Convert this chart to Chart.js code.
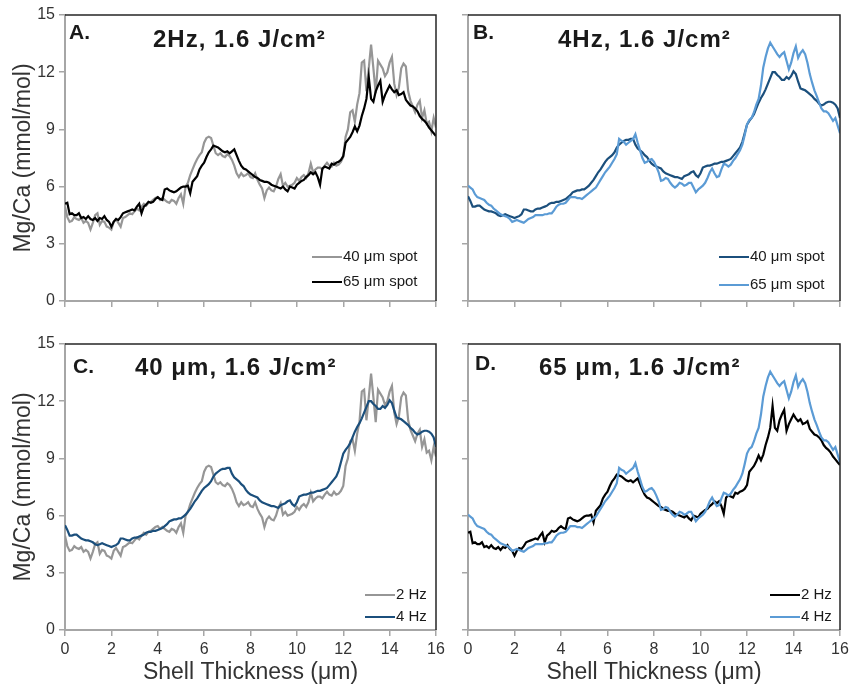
<!DOCTYPE html>
<html>
<head>
<meta charset="utf-8">
<script src="https://cdn.jsdelivr.net/npm/chart.js@4/dist/chart.umd.min.js"></script>
<style>
  html, body { margin: 0; padding: 0; background: #fff; }
  #wrap { position: relative; width: 864px; height: 686px; }
  #wrap canvas { position: absolute; left: 0; top: 0; }
</style>
</head>
<body>
<div id="wrap">
  <canvas id="panelA" width="864" height="686"></canvas>
  <canvas id="panelB" width="864" height="686"></canvas>
  <canvas id="panelC" width="864" height="686"></canvas>
  <canvas id="panelD" width="864" height="686"></canvas>
</div>
<script>
// sample positions along the shell (um)
const thickness = [
  0.0, 0.1, 0.2, 0.3, 0.4, 0.5, 0.6, 0.7, 0.8, 0.9,
  1.0, 1.1, 1.2, 1.3, 1.4, 1.5, 1.6, 1.7, 1.8, 1.9,
  2.0, 2.1, 2.2, 2.3, 2.4, 2.5, 2.6, 2.7, 2.8, 2.9,
  3.0, 3.1, 3.2, 3.3, 3.4, 3.5, 3.6, 3.7, 3.8, 3.9,
  4.0, 4.1, 4.2, 4.3, 4.4, 4.5, 4.6, 4.7, 4.8, 4.9,
  5.0, 5.1, 5.2, 5.3, 5.4, 5.5, 5.6, 5.7, 5.8, 5.9,
  6.0, 6.1, 6.2, 6.3, 6.4, 6.5, 6.6, 6.7, 6.8, 6.9,
  7.0, 7.1, 7.2, 7.3, 7.4, 7.5, 7.6, 7.7, 7.8, 7.9,
  8.0, 8.1, 8.2, 8.3, 8.4, 8.5, 8.6, 8.7, 8.8, 8.9,
  9.0, 9.1, 9.2, 9.3, 9.4, 9.5, 9.6, 9.7, 9.8, 9.9,
  10.0, 10.1, 10.2, 10.3, 10.4, 10.5, 10.6, 10.7, 10.8, 10.9,
  11.0, 11.1, 11.2, 11.3, 11.4, 11.5, 11.6, 11.7, 11.8, 11.9,
  12.0, 12.1, 12.2, 12.3, 12.4, 12.5, 12.6, 12.7, 12.8, 12.9,
  13.0, 13.1, 13.2, 13.3, 13.4, 13.5, 13.6, 13.7, 13.8, 13.9,
  14.0, 14.1, 14.2, 14.3, 14.4, 14.5, 14.6, 14.7, 14.8, 14.9,
  15.0, 15.1, 15.2, 15.3, 15.4, 15.5, 15.6, 15.7, 15.8, 15.9,
  16.0
]

// Mg/Ca (mmol/mol), 2 Hz, 40 um spot
const hz2spot40 = [
  4.95, 4.4, 4.15, 4.2, 4.4, 4.3, 4.25, 4.35, 4.1, 4.2,
  4.1, 3.75, 4.1, 4.5, 4.6, 4.0, 4.2, 4.15, 3.9, 3.85,
  3.75, 4.15, 4.3, 4.1, 3.9, 4.35, 4.4, 4.5, 4.6, 4.55,
  4.7, 4.85, 4.75, 4.95, 5.1, 5.0, 5.15, 5.2, 5.3, 5.4,
  5.45, 5.3, 5.4, 5.3, 5.2, 5.15, 5.3, 5.25, 5.1, 5.4,
  5.6, 5.1, 6.0, 6.2, 6.6, 6.9, 7.2, 7.45, 7.65, 7.8,
  8.3, 8.55, 8.62, 8.55, 8.15, 7.75, 7.65, 7.75, 7.6, 7.55,
  7.7, 7.6, 7.4, 7.1, 6.7, 6.5, 6.7, 6.55, 6.6, 6.7,
  6.5, 6.45, 6.7, 6.35, 6.1, 5.9, 5.4, 5.8, 5.95, 5.8,
  5.75, 6.0, 6.4, 6.65, 6.05, 6.2, 6.0, 6.05, 6.1, 6.2,
  6.45, 6.3, 6.5, 6.6, 6.45, 6.7, 7.2, 6.75, 6.9, 7.0,
  7.0, 6.9, 7.1, 7.25, 7.1, 7.05, 7.25, 7.1, 7.15, 7.3,
  7.55, 8.6, 9.0, 9.9, 10.0, 9.4, 10.3, 10.9, 12.5, 12.6,
  11.0, 12.2, 13.45, 12.2, 10.9, 12.6, 12.4, 12.2, 11.8, 12.0,
  12.5, 12.8, 11.4, 10.8, 11.2, 12.2, 12.45, 12.3, 11.0, 10.5,
  10.2, 9.9, 10.3, 10.5, 9.6, 10.0, 9.3, 9.4, 8.9, 9.6,
  9.1
]

// Mg/Ca (mmol/mol), 2 Hz, 65 um spot
const hz2spot65 = [
  5.1, 5.15, 4.55, 4.6, 4.5, 4.5, 4.6, 4.35, 4.4, 4.3,
  4.45, 4.3, 4.25, 4.35, 4.2, 4.35, 4.3, 4.45, 4.25, 4.15,
  3.9, 4.15, 4.3, 4.25, 4.4, 4.6, 4.65, 4.7, 4.75, 4.8,
  4.75, 4.95, 5.1, 4.6, 4.95, 5.05, 5.2, 5.15, 5.2, 5.35,
  5.45, 5.35, 5.3, 5.85, 5.9, 5.8, 5.75, 5.7, 5.75, 5.85,
  5.95, 6.0, 6.0, 6.05, 5.65, 6.25, 6.4, 6.55, 6.9, 7.1,
  7.25, 7.55, 7.8, 7.95, 8.15, 8.1, 8.05, 7.95, 7.85, 7.8,
  7.85, 7.75, 7.85, 7.95, 7.65, 7.35, 7.1, 6.95, 6.9, 6.8,
  6.7, 6.6, 6.5, 6.45, 6.35, 6.3, 6.25, 6.25, 6.2, 6.1,
  6.05, 6.0, 5.95, 5.9, 6.0, 5.85, 5.75, 6.0, 5.95, 5.9,
  6.1, 6.2, 6.3, 6.35, 6.5, 6.6, 6.75, 6.65, 6.75, 6.5,
  6.1, 6.95, 7.05, 7.0, 6.95, 7.2, 7.15, 7.25, 7.3, 7.4,
  7.6, 8.3, 8.45, 8.6, 8.85, 9.15, 8.9, 9.2, 9.7, 10.1,
  10.6, 11.75, 10.6, 10.45, 11.0, 11.3, 11.55, 10.45, 10.8, 11.05,
  11.3, 11.1, 10.95, 11.05, 10.8, 10.85, 10.95, 10.55, 10.4, 10.25,
  10.2, 10.1, 9.95, 9.7, 9.55, 9.45, 9.3, 9.1, 8.95, 8.8,
  8.65
]

// Mg/Ca (mmol/mol), 4 Hz, 40 um spot
const hz4spot40 = [
  5.5, 5.25, 4.95, 4.95, 5.0, 5.0, 4.9, 4.8, 4.75, 4.7,
  4.7, 4.65, 4.6, 4.5, 4.45, 4.5, 4.55, 4.5, 4.45, 4.4,
  4.35, 4.4, 4.45, 4.55, 4.8, 4.8, 4.75, 4.7, 4.7, 4.8,
  4.85, 4.85, 4.9, 4.95, 5.0, 5.1, 5.15, 5.15, 5.2, 5.2,
  5.25, 5.3, 5.35, 5.45, 5.55, 5.7, 5.75, 5.8, 5.8, 5.85,
  5.85, 5.95, 6.05, 6.2, 6.35, 6.55, 6.75, 6.9, 7.1, 7.3,
  7.45, 7.55, 7.65, 7.8, 8.05, 8.2, 8.3, 8.4, 8.45, 8.45,
  8.5, 8.5, 8.2, 8.0, 7.9, 7.8, 7.65, 7.55, 7.35, 7.2,
  7.1, 7.05, 7.0, 6.95, 6.8, 6.7, 6.65, 6.6, 6.55, 6.5,
  6.5, 6.45, 6.4, 6.55, 6.6, 6.65, 6.75, 6.8, 6.6, 6.5,
  6.7, 7.0, 7.05, 7.1, 7.1, 7.15, 7.2, 7.2, 7.25, 7.3,
  7.3, 7.35, 7.4, 7.45, 7.6, 7.75, 7.9, 8.05, 8.35, 8.8,
  9.25, 9.45, 9.6, 9.8, 10.1, 10.4, 10.65, 10.85, 11.1, 11.4,
  11.7, 12.0, 12.0, 11.85, 11.75, 11.6, 11.6, 11.75, 11.65, 11.8,
  12.05, 11.9, 11.5, 11.15, 11.1, 11.05, 10.95, 10.85, 10.75, 10.6,
  10.5, 10.35, 10.25, 10.3, 10.4, 10.45, 10.45, 10.4, 10.3, 10.1,
  9.6
]

// Mg/Ca (mmol/mol), 4 Hz, 65 um spot
const hz4spot65 = [
  6.05, 5.95, 5.85, 5.6, 5.45, 5.4, 5.35, 5.3, 5.15, 5.05,
  5.0, 4.85, 4.75, 4.65, 4.55, 4.5, 4.45, 4.4, 4.3, 4.15,
  4.2, 4.25, 4.2, 4.15, 4.1, 4.2, 4.3, 4.35, 4.4, 4.5,
  4.5, 4.5, 4.5, 4.55, 4.55, 4.6, 4.6, 4.75, 4.95, 5.05,
  5.1, 5.1, 5.15, 5.3, 5.45, 5.45, 5.45, 5.4, 5.4, 5.35,
  5.45, 5.55, 5.65, 5.75, 5.85, 5.95, 6.15, 6.35, 6.55, 6.75,
  6.9, 7.05, 7.25, 7.45, 7.7, 8.5, 8.4, 8.35, 8.2, 8.3,
  8.4, 8.5, 8.75, 8.3, 7.9, 7.5, 7.25, 7.3, 7.4, 7.45,
  7.3, 7.05, 6.75, 6.3, 6.35, 6.45, 6.4, 6.2, 6.05, 5.95,
  6.05, 6.2, 6.15, 6.05, 6.1, 6.2, 6.2, 5.95, 5.7, 5.85,
  5.95, 6.05, 6.2, 6.45, 6.75, 6.95, 6.7, 6.5, 6.55, 6.9,
  7.2, 7.15, 7.05, 7.15, 7.35, 7.5, 7.7, 7.9, 8.2, 8.7,
  9.25, 9.5, 9.6, 9.9, 10.3, 10.6, 11.3, 12.25, 12.8, 13.25,
  13.55, 13.35, 13.15, 12.95, 12.8, 12.95, 13.05, 12.6, 12.15, 12.5,
  13.0, 13.35, 12.75, 13.0, 13.15, 12.95, 12.5, 11.9, 11.45, 11.05,
  10.75, 10.4, 10.1, 9.95, 9.95, 9.85, 9.65, 9.45, 9.6, 9.2,
  8.8
]

const xTicks = [0, 2, 4, 6, 8, 10, 12, 14, 16]
const yTicks = [0, 3, 6, 9, 12, 15]

const FONT = '"Liberation Sans", Arial, Helvetica, sans-serif'
const GRAY = '#969696'
const BLACK = '#000000'
const NAVY = '#1b4f7c'
const SKY = '#5b9bd5'
const AXIS = '#a6a6a6'
const TEXT = '#333333'

const W = 864
const H = 686

function series(values) {
  return thickness.map((x, i) => ({ x: x, y: values[i] }))
}

// title, panel letter, legend and the dark top/right frame
const panelPlugin = {
  id: 'panel',
  afterDraw(chart, args, opts) {
    const { ctx, chartArea: a } = chart
    ctx.save()

    ctx.strokeStyle = '#262626'
    ctx.lineWidth = 1.5
    ctx.beginPath()
    ctx.moveTo(a.left, a.top)
    ctx.lineTo(a.right, a.top)
    ctx.lineTo(a.right, a.bottom)
    ctx.stroke()

    ctx.fillStyle = '#1a1a1a'
    ctx.textBaseline = 'alphabetic'
    ctx.textAlign = 'left'
    ctx.font = 'bold 21px ' + FONT
    ctx.fillText(opts.letter, a.left + opts.letterAt[0], a.top + opts.letterAt[1])
    ctx.font = 'bold 24px ' + FONT
    ctx.letterSpacing = '1px'
    ctx.fillText(opts.title, a.left + opts.titleAt[0], a.top + opts.titleAt[1])
    ctx.letterSpacing = '0px'

    ctx.font = '15px ' + FONT
    ctx.textBaseline = 'middle'
    chart.data.datasets.forEach((ds, i) => {
      const y = a.bottom + opts.legendRows[i]
      const x0 = a.right + opts.legendX[0]
      const x1 = a.right + opts.legendX[1]
      ctx.strokeStyle = ds.borderColor
      ctx.lineWidth = 2
      ctx.beginPath()
      ctx.moveTo(x0, y)
      ctx.lineTo(x1, y)
      ctx.stroke()
      ctx.fillStyle = '#1a1a1a'
      ctx.fillText(ds.label, x1 + 1, y)
    })
    ctx.restore()
  }
}

function makePanel(id, p) {
  const yWidth = p.yLabels ? 65 : 20
  const xHeight = p.xLabels ? 56 : 10
  new Chart(document.getElementById(id), {
    type: 'line',
    data: {
      datasets: p.lines.map((l, i) => ({
        label: l.label,
        data: series(l.values),
        borderColor: l.color,
        borderWidth: 2.2,
        pointRadius: 0,
        tension: 0,
        order: 2 - i
      }))
    },
    options: {
      responsive: false,
      animation: false,
      devicePixelRatio: 1,
      layout: {
        padding: {
          left: p.area.left - yWidth,
          top: p.area.top,
          right: W - p.area.right,
          bottom: H - p.area.bottom - xHeight
        }
      },
      plugins: {
        legend: { display: false },
        tooltip: { enabled: false },
        panel: p.deco
      },
      scales: {
        x: {
          type: 'linear',
          min: 0,
          max: 16,
          afterFit: s => { s.height = xHeight },
          afterBuildTicks: s => { s.ticks = xTicks.map(v => ({ value: v })) },
          grid: { drawOnChartArea: false, drawTicks: true, tickLength: 6, color: AXIS, lineWidth: 1.5 },
          border: { display: true, color: AXIS, width: 2 },
          ticks: {
            display: p.xLabels,
            padding: 4,
            color: TEXT,
            font: { family: FONT, size: 16 }
          },
          title: {
            display: p.xLabels,
            text: 'Shell Thickness (\u03bcm)',
            color: TEXT,
            padding: { top: 0, bottom: 0 },
            font: { family: FONT, size: 23 }
          }
        },
        y: {
          min: 0,
          max: 15,
          afterFit: s => { s.width = yWidth },
          afterBuildTicks: s => { s.ticks = yTicks.map(v => ({ value: v })) },
          grid: { drawOnChartArea: false, drawTicks: true, tickLength: 6, color: AXIS, lineWidth: 1.5 },
          border: { display: true, color: AXIS, width: 2 },
          ticks: {
            display: p.yLabels,
            padding: 4,
            color: TEXT,
            font: { family: FONT, size: 16 }
          },
          title: {
            display: p.yLabels,
            text: 'Mg/Ca (mmol/mol)',
            color: TEXT,
            padding: { top: 10, bottom: 0 },
            font: { family: FONT, size: 23 }
          }
        }
      }
    },
    plugins: [panelPlugin]
  })
}

makePanel('panelA', {
  area: { left: 65, top: 15, right: 436, bottom: 301 },
  yLabels: true, xLabels: false,
  lines: [
    { label: '40 \u03bcm spot', values: hz2spot40, color: GRAY },
    { label: '65 \u03bcm spot', values: hz2spot65, color: BLACK }
  ],
  deco: { letter: 'A.', letterAt: [4, 24], title: '2Hz, 1.6 J/cm\u00b2', titleAt: [88, 32],
          legendX: [-124, -94], legendRows: [-44, -19] }
})

makePanel('panelB', {
  area: { left: 468, top: 15, right: 840, bottom: 301 },
  yLabels: false, xLabels: false,
  lines: [
    { label: '40 \u03bcm spot', values: hz4spot40, color: NAVY },
    { label: '65 \u03bcm spot', values: hz4spot65, color: SKY }
  ],
  deco: { letter: 'B.', letterAt: [5, 24], title: '4Hz, 1.6 J/cm\u00b2', titleAt: [90, 32],
          legendX: [-121, -91], legendRows: [-44, -16] }
})

makePanel('panelC', {
  area: { left: 65, top: 344, right: 436, bottom: 630 },
  yLabels: true, xLabels: true,
  lines: [
    { label: '2 Hz', values: hz2spot40, color: GRAY },
    { label: '4 Hz', values: hz4spot40, color: NAVY }
  ],
  deco: { letter: 'C.', letterAt: [8, 29], title: '40 \u03bcm, 1.6 J/cm\u00b2', titleAt: [70, 31],
          legendX: [-71, -41], legendRows: [-35, -13] }
})

makePanel('panelD', {
  area: { left: 468, top: 344, right: 840, bottom: 630 },
  yLabels: false, xLabels: true,
  lines: [
    { label: '2 Hz', values: hz2spot65, color: BLACK },
    { label: '4 Hz', values: hz4spot65, color: SKY }
  ],
  deco: { letter: 'D.', letterAt: [7, 26], title: '65 \u03bcm, 1.6 J/cm\u00b2', titleAt: [71, 31],
          legendX: [-70, -40], legendRows: [-35, -13] }
})
</script>
</body>
</html>
